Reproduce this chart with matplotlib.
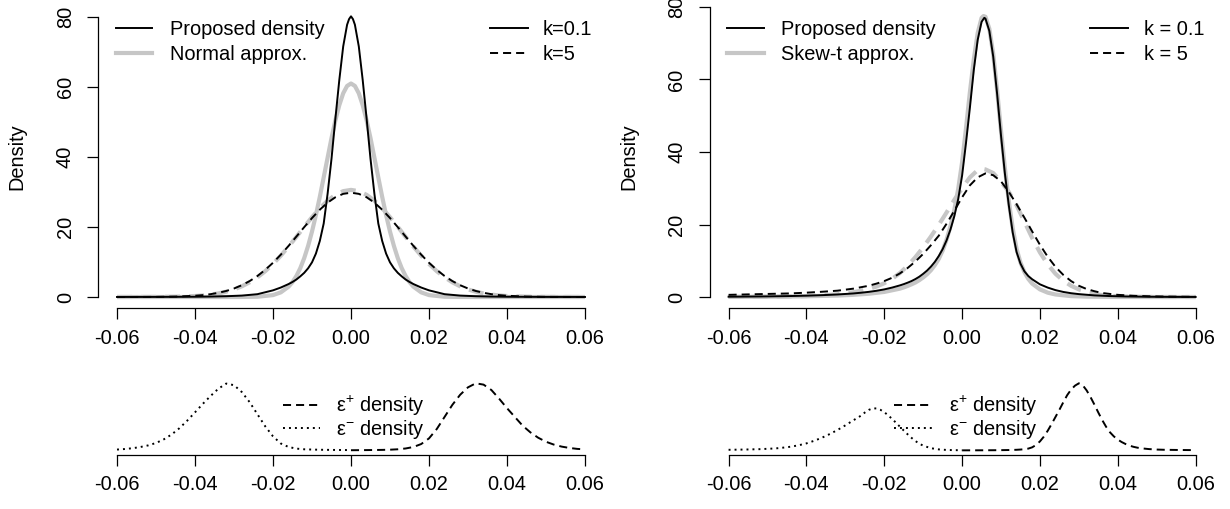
import matplotlib
matplotlib.use("Agg")
import matplotlib.pyplot as plt

plt.rcParams["font.family"] = ["Liberation Sans", "DejaVu Sans"]
plt.rcParams["mathtext.fontset"] = "custom"
plt.rcParams["mathtext.rm"] = "Liberation Sans"
plt.rcParams["mathtext.it"] = "Liberation Sans:italic"
plt.rcParams["lines.scale_dashes"] = False

# ---- shared axis labels ----
x_ticks = [-0.06, -0.04, -0.02, 0.0, 0.02, 0.04, 0.06]
x_tick_labels = ["-0.06", "-0.04", "-0.02", "0.00", "0.02", "0.04", "0.06"]
y_ticks = [0, 20, 40, 60, 80]
y_tick_labels = ["0", "20", "40", "60", "80"]

# ---- top left: proposed density vs normal approximation ----
tl_prop01_x = [-0.06, -0.05, -0.04, -0.036, -0.032, -0.028, -0.024, -0.02, -0.018, -0.016,
               -0.015, -0.014, -0.013, -0.012, -0.011, -0.01, -0.009, -0.008, -0.007, -0.006,
               -0.005, -0.004, -0.003, -0.002, -0.001, -0.0005, 0.0, 0.0005, 0.001, 0.002,
               0.003, 0.004, 0.005, 0.006, 0.007, 0.008, 0.009, 0.01, 0.011, 0.012,
               0.013, 0.014, 0.015, 0.016, 0.018, 0.02, 0.024, 0.028, 0.032, 0.036,
               0.04, 0.05, 0.06]
tl_prop01_y = [0.005, 0.02, 0.07, 0.12, 0.22, 0.4, 0.8, 1.9, 2.7, 3.7,
               4.3, 5.0, 5.9, 6.9, 8.2, 9.9, 12.4, 16.0, 21.0, 29.5,
               39.5, 51.0, 62.0, 71.6, 77.8, 79.4, 80.2, 79.4, 77.8, 71.6,
               62.0, 51.0, 39.5, 29.5, 21.0, 16.0, 12.4, 9.9, 8.2, 6.9,
               5.9, 5.0, 4.3, 3.7, 2.7, 1.9, 0.8, 0.4, 0.22, 0.12,
               0.07, 0.02, 0.005]

tl_norm01_x = [-0.06, -0.04, -0.032, -0.028, -0.024, -0.02, -0.018, -0.016, -0.015, -0.014,
               -0.013, -0.012, -0.011, -0.01, -0.009, -0.008, -0.007, -0.006, -0.005, -0.004,
               -0.003, -0.002, -0.001, 0.0, 0.001, 0.002, 0.003, 0.004, 0.005, 0.006,
               0.007, 0.008, 0.009, 0.01, 0.011, 0.012, 0.013, 0.014, 0.015, 0.016,
               0.018, 0.02, 0.024, 0.028, 0.032, 0.04, 0.06]
tl_norm01_y = [0.0, 0.0, 0.0, 0.01, 0.07, 0.54, 1.32, 2.95, 4.25, 6.0,
               8.25, 11.1, 14.6, 18.7, 23.4, 28.6, 34.2, 39.8, 45.4, 50.5,
               54.8, 58.2, 60.3, 61.0, 60.3, 58.2, 54.8, 50.5, 45.4, 39.8,
               34.2, 28.6, 23.4, 18.7, 14.6, 11.1, 8.25, 6.0, 4.25, 2.95,
               1.32, 0.54, 0.07, 0.01, 0.0, 0.0, 0.0]

tl_k5_x = [-0.06, -0.05, -0.045, -0.04, -0.038, -0.036, -0.034, -0.032, -0.03, -0.028,
           -0.026, -0.024, -0.022, -0.02, -0.018, -0.016, -0.014, -0.012, -0.01, -0.008,
           -0.006, -0.004, -0.002, 0.0, 0.002, 0.004, 0.006, 0.008, 0.01, 0.012,
           0.014, 0.016, 0.018, 0.02, 0.022, 0.024, 0.026, 0.028, 0.03, 0.032,
           0.034, 0.036, 0.038, 0.04, 0.045, 0.05, 0.06]
tl_norm5_y = [0.0, 0.02, 0.08, 0.28, 0.44, 0.68, 1.02, 1.51, 2.17, 3.05,
              4.19, 5.62, 7.37, 9.44, 11.8, 14.42, 17.19, 20.04, 22.8, 25.35,
              27.53, 29.19, 30.24, 30.6, 30.24, 29.19, 27.53, 25.35, 22.8, 20.04,
              17.19, 14.42, 11.8, 9.44, 7.37, 5.62, 4.19, 3.05, 2.17, 1.51,
              1.02, 0.68, 0.44, 0.28, 0.08, 0.02, 0.0]
tl_prop5_y = [0.0, 0.03, 0.11, 0.35, 0.53, 0.81, 1.19, 1.72, 2.43, 3.36,
              4.54, 5.99, 7.75, 9.78, 12.09, 14.61, 17.27, 19.96, 22.56, 24.94,
              26.96, 28.5, 29.47, 29.8, 29.47, 28.5, 26.96, 24.94, 22.56, 19.96,
              17.27, 14.61, 12.09, 9.78, 7.75, 5.99, 4.54, 3.36, 2.43, 1.72,
              1.19, 0.81, 0.53, 0.35, 0.11, 0.03, 0.0]

# ---- top right: proposed density vs skew-t approximation ----
tr_prop01_x = [-0.06, -0.055, -0.05, -0.045, -0.04, -0.036, -0.032, -0.028, -0.026, -0.024,
               -0.022, -0.02, -0.018, -0.016, -0.015, -0.014, -0.013, -0.012, -0.011, -0.01,
               -0.009, -0.008, -0.007, -0.006, -0.005, -0.004, -0.003, -0.002, -0.001, 0.0,
               0.001, 0.002, 0.003, 0.004, 0.005, 0.0057, 0.006, 0.007, 0.008, 0.009,
               0.01, 0.011, 0.012, 0.013, 0.014, 0.015, 0.016, 0.017, 0.018, 0.02,
               0.022, 0.024, 0.026, 0.028, 0.03, 0.034, 0.038, 0.042, 0.048, 0.054,
               0.06]
tr_prop01_y = [0.08, 0.12, 0.17, 0.25, 0.37, 0.51, 0.7, 0.98, 1.18, 1.42,
               1.72, 2.1, 2.6, 3.2, 3.55, 3.95, 4.4, 4.95, 5.6, 6.4,
               7.3, 8.4, 9.7, 11.3, 13.2, 15.6, 18.6, 22.3, 27.0, 33.5,
               42.5, 52.2, 62.6, 70.9, 75.9, 77.0, 76.8, 73.4, 66.3, 56.0,
               44.5, 34.0, 25.3, 17.8, 12.4, 9.2, 7.1, 5.8, 4.9, 3.5,
               2.6, 1.9, 1.4, 1.05, 0.8, 0.45, 0.26, 0.15, 0.07, 0.03,
               0.015]

tr_skew01_x = [-0.06, -0.05, -0.04, -0.032, -0.028, -0.024, -0.02, -0.016, -0.015, -0.014,
               -0.013, -0.012, -0.011, -0.01, -0.009, -0.008, -0.007, -0.006, -0.005, -0.004,
               -0.003, -0.002, -0.001, 0.0, 0.001, 0.002, 0.003, 0.004, 0.005, 0.0055,
               0.006, 0.007, 0.008, 0.009, 0.01, 0.011, 0.012, 0.013, 0.014, 0.015,
               0.016, 0.017, 0.018, 0.02, 0.022, 0.024, 0.028, 0.032, 0.04, 0.05,
               0.06]
tr_skew01_y = [0.04, 0.08, 0.2, 0.4, 0.6, 0.9, 1.4, 2.3, 2.65, 3.05,
               3.5, 4.0, 4.65, 5.4, 6.3, 7.4, 8.8, 10.5, 12.8, 15.8,
               19.5, 24.0, 29.8, 37.2, 46.5, 56.5, 65.5, 72.8, 77.0, 77.5,
               77.3, 74.0, 67.0, 57.0, 45.8, 35.5, 26.5, 19.0, 13.3, 9.5,
               6.9, 5.0, 3.7, 2.1, 1.2, 0.7, 0.25, 0.1, 0.02, 0.0,
               0.0]

tr_prop5_x = [-0.06, -0.056, -0.052, -0.048, -0.044, -0.04, -0.036, -0.032, -0.028, -0.024,
              -0.022, -0.02, -0.018, -0.016, -0.014, -0.012, -0.01, -0.008, -0.006, -0.004,
              -0.002, 0.0, 0.002, 0.004, 0.006, 0.008, 0.01, 0.012, 0.014, 0.016,
              0.018, 0.02, 0.022, 0.024, 0.026, 0.028, 0.03, 0.032, 0.034, 0.036,
              0.04, 0.044, 0.048, 0.052, 0.056, 0.06]
tr_prop5_y = [0.6, 0.7, 0.8, 0.9, 1.0, 1.2, 1.45, 1.75, 2.3, 3.1,
              3.7, 4.4, 5.3, 6.5, 8.0, 9.8, 11.9, 14.3, 16.9, 20.2,
              23.8, 27.5, 30.8, 33.0, 34.1, 33.6, 31.9, 29.0, 25.6, 21.9,
              18.1, 14.4, 11.1, 8.3, 6.1, 4.4, 3.1, 2.2, 1.6, 1.1,
              0.6, 0.35, 0.2, 0.12, 0.08, 0.05]

tr_skew5_x = [-0.06, -0.056, -0.052, -0.048, -0.044, -0.04, -0.036, -0.032, -0.028, -0.024,
              -0.022, -0.02, -0.018, -0.016, -0.014, -0.012, -0.01, -0.008, -0.006, -0.004,
              -0.002, 0.0, 0.002, 0.004, 0.0055, 0.006, 0.008, 0.01, 0.012, 0.014,
              0.016, 0.018, 0.02, 0.022, 0.024, 0.026, 0.028, 0.03, 0.032, 0.034,
              0.036, 0.04, 0.044, 0.048, 0.052, 0.06]
tr_skew5_y = [0.03, 0.04, 0.06, 0.1, 0.16, 0.27, 0.45, 0.75, 1.3, 2.2,
              2.9, 3.8, 5.0, 6.6, 8.6, 11.0, 13.7, 16.7, 19.9, 23.3,
              26.8, 30.0, 33.0, 35.0, 35.3, 35.2, 34.2, 31.8, 29.0, 25.3,
              20.8, 16.3, 12.3, 9.0, 6.4, 4.5, 3.1, 2.1, 1.35, 0.85,
              0.52, 0.2, 0.07, 0.02, 0.01, 0.0]

# ---- bottom left: epsilon densities (normal case) ----
bl_minus_x = [-0.06, -0.058, -0.056, -0.054, -0.052, -0.05, -0.048, -0.046, -0.044, -0.042,
              -0.04, -0.038, -0.036, -0.034, -0.032, -0.03, -0.028, -0.026, -0.024, -0.022,
              -0.02, -0.018, -0.016, -0.014, -0.012, -0.01, -0.008, -0.004, 0.0]
bl_minus_y = [0.7, 1.1, 1.7, 2.6, 3.8, 5.6, 8.3, 11.9, 16.6, 22.2,
              28.4, 34.7, 40.6, 46.0, 49.8, 48.6, 43.5, 36.0, 27.0, 18.0,
              10.5, 5.2, 2.6, 1.4, 0.9, 0.7, 0.55, 0.4, 0.3]
bl_plus_x = [0.0, 0.004, 0.008, 0.01, 0.012, 0.014, 0.016, 0.018, 0.02, 0.022,
             0.024, 0.026, 0.028, 0.03, 0.032, 0.034, 0.036, 0.038, 0.04, 0.042,
             0.044, 0.046, 0.048, 0.05, 0.052, 0.054, 0.056, 0.058, 0.06]
bl_plus_y = [0.2, 0.3, 0.45, 0.6, 0.9, 1.5, 2.6, 4.8, 9.0, 16.0,
             25.0, 34.0, 41.5, 47.0, 50.0, 49.0, 45.0, 38.5, 31.5, 25.0,
             18.5, 13.5, 9.5, 6.5, 4.4, 2.9, 1.9, 1.2, 0.8]

# ---- bottom right: epsilon densities (skew-t case) ----
br_minus_x = [-0.06, -0.056, -0.052, -0.048, -0.046, -0.044, -0.042, -0.04, -0.038, -0.036,
              -0.034, -0.032, -0.03, -0.028, -0.026, -0.025, -0.024, -0.023, -0.022, -0.021,
              -0.02, -0.019, -0.018, -0.017, -0.016, -0.015, -0.014, -0.013, -0.012, -0.011,
              -0.01, -0.008, -0.006, -0.004, -0.002, 0.0]
br_minus_y = [0.9, 1.2, 1.7, 2.6, 3.6, 4.8, 6.6, 9.0, 12.3, 16.2,
              20.8, 26.0, 31.8, 38.0, 44.0, 48.0, 51.3, 53.3, 53.2, 51.5,
              48.5, 44.5, 40.0, 35.2, 30.2, 25.3, 20.5, 16.0, 12.0, 8.7,
              6.1, 2.9, 1.4, 0.7, 0.45, 0.3]
br_plus_x = [0.0, 0.004, 0.008, 0.01, 0.012, 0.014, 0.015, 0.016, 0.017, 0.018,
             0.019, 0.02, 0.021, 0.022, 0.023, 0.024, 0.025, 0.026, 0.027, 0.028,
             0.029, 0.03, 0.031, 0.032, 0.033, 0.034, 0.035, 0.036, 0.037, 0.038,
             0.039, 0.04, 0.041, 0.042, 0.043, 0.044, 0.045, 0.046, 0.048, 0.05,
             0.052, 0.055, 0.058, 0.06]
br_plus_y = [0.2, 0.25, 0.35, 0.45, 0.6, 0.9, 1.2, 1.6, 2.4, 4.0,
             7.0, 11.5, 17.5, 25.0, 33.5, 42.5, 51.5, 61.0, 70.0, 77.0,
             82.0, 85.0, 82.5, 76.0, 67.5, 58.0, 48.0, 38.5, 30.0, 23.0,
             17.8, 13.8, 10.7, 8.2, 6.2, 4.7, 3.6, 2.8, 1.8, 1.2,
             0.9, 0.7, 0.55, 0.5]

# ---- styling ----
FS = 14.4
GRAY = "#c6c6c6"
LW_B = 1.4
LW_G = 3.0
DASH_B = (0, (5.8, 3.6))
DASH_G = (0, (10.8, 6.5))
DOT = (0, (1.4, 2.9))
TICK_LEN = 7.9

W, H = 1230, 509
fig = plt.figure(figsize=(W / 100, H / 100), dpi=100)


def px_axes(left, top, right, bottom):
    return fig.add_axes([left / W, 1 - bottom / H, (right - left) / W, (bottom - top) / H])


def r_axes(ax, ylim, show_y=True):
    ax.set_xlim(-0.0648, 0.0648)
    ax.set_ylim(*ylim)
    ax.patch.set_alpha(0)
    for side in ("top", "right"):
        ax.spines[side].set_visible(False)
    ax.spines["bottom"].set_bounds(-0.06, 0.06)
    ax.spines["bottom"].set_linewidth(0.9)
    ax.set_xticks(x_ticks)
    ax.set_xticklabels(x_tick_labels)
    ax.tick_params(axis="x", direction="out", length=TICK_LEN, width=0.9,
                   labelsize=FS, pad=7)
    if show_y:
        ax.spines["left"].set_bounds(0, 80)
        ax.spines["left"].set_linewidth(0.9)
        ax.set_yticks(y_ticks)
        ax.set_yticklabels(y_tick_labels, rotation=90, va="center")
        ax.tick_params(axis="y", direction="out", length=TICK_LEN, width=0.9,
                       labelsize=FS, pad=9)
    else:
        ax.spines["left"].set_visible(False)
        ax.set_yticks([])


# top left
ax1 = px_axes(98.3, 5, 603.7, 308.4)
r_axes(ax1, (-3.26, 83.43))
ax1.plot(tl_norm01_x, tl_norm01_y, color=GRAY, lw=LW_G, solid_capstyle="butt")
ax1.plot(tl_k5_x, tl_norm5_y, color=GRAY, lw=LW_G, ls=DASH_G)
ax1.plot(tl_prop01_x, tl_prop01_y, color="black", lw=LW_B)
ax1.plot(tl_k5_x, tl_prop5_y, color="black", lw=LW_B, ls=DASH_B)

# top right
ax2 = px_axes(709.9, 5, 1214.3, 308.4)
r_axes(ax2, (-3.14, 80.55))
ax2.plot(tr_skew01_x, tr_skew01_y, color=GRAY, lw=LW_G, solid_capstyle="butt")
ax2.plot(tr_skew5_x, tr_skew5_y, color=GRAY, lw=LW_G, ls=DASH_G)
ax2.plot(tr_prop01_x, tr_prop01_y, color="black", lw=LW_B)
ax2.plot(tr_prop5_x, tr_prop5_y, color="black", lw=LW_B, ls=DASH_B)

# bottom left
ax3 = px_axes(98.3, 380.5, 603.7, 454.5)
r_axes(ax3, (-2.98, 52.08), show_y=False)
ax3.plot(bl_minus_x, bl_minus_y, color="black", lw=LW_B, ls=DOT)
ax3.plot(bl_plus_x, bl_plus_y, color="black", lw=LW_B, ls=DASH_B)

# bottom right
ax4 = px_axes(709.9, 380.5, 1214.3, 454.5)
r_axes(ax4, (-5.06, 88.54), show_y=False)
ax4.plot(br_minus_x, br_minus_y, color="black", lw=LW_B, ls=DOT)
ax4.plot(br_plus_x, br_plus_y, color="black", lw=LW_B, ls=DASH_B)

# overlay in pixel coordinates for legends and y labels
ov = fig.add_axes([0, 0, 1, 1], zorder=5)
ov.set_xlim(0, W)
ov.set_ylim(H, 0)
ov.set_axis_off()

CAP = 7.2  # half cap height in px, to centre text on legend lines


def legend_row(x0, x1, y, tx, label, **kw):
    ov.plot([x0, x1], [y, y], **kw)
    ov.text(tx, y + CAP, label, fontsize=FS, va="baseline", ha="left")


for x0 in (98.3, 709.9):
    ov.text(x0 - 81, 156.7, "Density", rotation=90, ha="center", va="center", fontsize=FS)

legend_row(116, 152, 28, 170, "Proposed density", color="black", lw=LW_B)
legend_row(116, 152, 53, 170, "Normal approx.", color=GRAY, lw=LW_G)
legend_row(490, 528, 28, 543, "k=0.1", color="black", lw=LW_B)
legend_row(490, 528, 53, 543, "k=5", color="black", lw=LW_B, ls=DASH_B)

legend_row(727, 764, 28, 781, "Proposed density", color="black", lw=LW_B)
legend_row(727, 764, 53, 781, "Skew-t approx.", color=GRAY, lw=LW_G)
legend_row(1090, 1128, 28, 1143.6, "k = 0.1", color="black", lw=LW_B)
legend_row(1090, 1128, 53, 1143.6, "k = 5", color="black", lw=LW_B, ls=DASH_B)

legend_row(283, 320, 405, 336, r"$\mathrm{ε}^{+}$ density", color="black", lw=LW_B, ls=DASH_B)
legend_row(283, 320, 428, 336, r"$\mathrm{ε}^{-}$ density", color="black", lw=LW_B, ls=DOT)
legend_row(894, 932, 405, 949, r"$\mathrm{ε}^{+}$ density", color="black", lw=LW_B, ls=DASH_B)
legend_row(894, 932, 428, 949, r"$\mathrm{ε}^{-}$ density", color="black", lw=LW_B, ls=DOT)

fig.savefig("out.png", dpi=100)
